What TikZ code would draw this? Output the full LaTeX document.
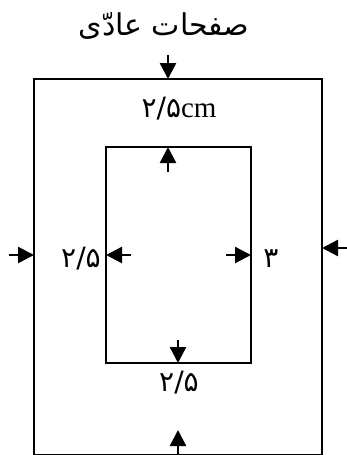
\documentclass[tikz,border=0pt]{standalone}
\usepackage{fontspec}
\setmainfont{Liberation Serif}
\newfontfamily\arabicfont[Script=Arabic]{DejaVu Sans}
\TeXXeTstate=1
\usetikzlibrary{arrows.meta}
\tikzset{
  box/.style={draw, line width=2.4pt, inner sep=0pt},
  dimarrow/.style={line width=2.4pt, -{Triangle[length=16pt,width=16pt]}},
  lbl/.style={inner sep=0pt, font=\fontsize{28}{32}\selectfont},
}
\begin{document}
\begin{tikzpicture}[x=1pt,y=-1pt]
\useasboundingbox (0,0) rectangle (347,455);
% outer page
\node[box, minimum width=288pt, minimum height=376pt] (outer) at (178,267) {};
% inner text area
\node[box, minimum width=145pt, minimum height=216pt] (inner) at (178.5,255) {};
% title
\node[lbl, font=\fontsize{30}{34}\selectfont] (title) at (164,26) {\arabicfont\beginR صفحات عادّی\endR};
% labels
\node[lbl] (ltop) at (179,109) {\arabicfont ۲/۵\fontsize{29}{32}\selectfont\rmfamily cm};
\node[lbl] (lleft) at (81,259) {\arabicfont ۲/۵};
\node[lbl] (lright) at (271,259) {\arabicfont ۳};
\node[lbl] (lbot) at (179,383) {\arabicfont ۲/۵};
% arrow end points
\coordinate (t1) at (168,55);   \coordinate (t1e) at (168,79);
\coordinate (t2) at (168,172);  \coordinate (t2e) at (168,147);
\coordinate (l1) at (9,255);    \coordinate (l1e) at (34,255);
\coordinate (l2) at (131,255);  \coordinate (l2e) at (106,255);
\coordinate (r1) at (226,255);  \coordinate (r1e) at (251,255);
\coordinate (r2) at (347,248);  \coordinate (r2e) at (322,248);
\coordinate (b1) at (178,340);  \coordinate (b1e) at (178,363);
\coordinate (b2) at (178,455);  \coordinate (b2e) at (178,430);
\draw[dimarrow] (t1) -- (t1e);
\draw[dimarrow] (t2) -- (t2e);
\draw[dimarrow] (l1) -- (l1e);
\draw[dimarrow] (l2) -- (l2e);
\draw[dimarrow] (r1) -- (r1e);
\draw[dimarrow] (r2) -- (r2e);
\draw[dimarrow] (b1) -- (b1e);
\draw[dimarrow] (b2) -- (b2e);
\end{tikzpicture}
\end{document}
